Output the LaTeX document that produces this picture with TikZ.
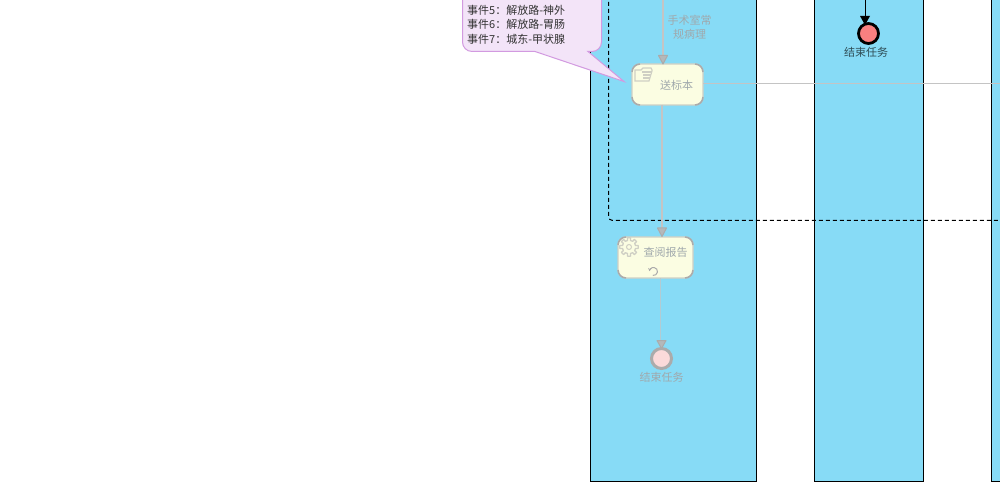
\documentclass[tikz,border=0pt]{standalone}
\usepackage{fontspec}
\usetikzlibrary{arrows.meta}
\setmainfont{Liberation Sans}
\newfontfamily\cjk{Noto Sans CJK SC}
\definecolor{laneblue}{HTML}{87DBF6}
\definecolor{taskline}{HTML}{CFCFC4}
\definecolor{taskfill}{HTML}{FBFDE2}
\definecolor{fadetext}{HTML}{A0A8AC}
\definecolor{flowgray}{HTML}{C4C4C4}
\definecolor{tipline}{HTML}{ABABAB}
\definecolor{tipfill}{HTML}{B4B8BA}
\definecolor{callfill}{HTML}{F3E4F8}
\definecolor{callline}{HTML}{D29AE0}
\definecolor{endred}{HTML}{F98080}
\definecolor{endpink}{HTML}{FBDADA}
\tikzset{
  lane/.style={fill=laneblue,draw=black,line width=1pt},
  task/.style={draw=taskline,fill=taskfill,line width=1.4pt,rounded corners=8pt,minimum height=41pt,inner sep=0pt,outer sep=0pt},
  lbl/.style={font=\cjk\fontsize{11}{14}\selectfont,text=fadetext,inner sep=0pt,align=center},
  flow/.style={draw=flowgray,line width=1.2pt},
  tipgray/.style={draw=tipline,line width=1pt,fill=tipfill,line join=round},
  cornergray/.style={draw=tipline,line width=1.5pt,rounded corners=8pt},
}
\newcommand\taskcorners[1]{%
  \draw[cornergray] ([yshift=-8pt]#1.north west) -- (#1.north west) -- ([xshift=8pt]#1.north west);
  \draw[cornergray] ([yshift=-8pt]#1.north east) -- (#1.north east) -- ([xshift=-8pt]#1.north east);
  \draw[cornergray] ([yshift=8pt]#1.south west) -- (#1.south west) -- ([xshift=8pt]#1.south west);
  \draw[cornergray] ([yshift=8pt]#1.south east) -- (#1.south east) -- ([xshift=-8pt]#1.south east);
}
\begin{document}
\begin{tikzpicture}[x=1pt,y=-1pt]
\useasboundingbox (0,0) rectangle (1000,486);
\fill[white] (0,0) rectangle (1000,486);
% lanes
\path[lane] (590.5,-5) rectangle (756.5,481.5);
\path[lane] (814.5,-5) rectangle (923.5,481.5);
\path[lane] (991.5,-5) rectangle (1005,481.5);
\coordinate (fr) at (1003,83.5);
% dashed group
\draw[black,line width=1pt,dash pattern=on 4pt off 3pt,rounded corners=4pt] (608.5,-5) -- (608.5,220.5) -- (1005,220.5);
% nodes
\node[task,minimum width=71pt] (send) at (667.5,84.5) {};
\node[task,minimum width=75pt] (report) at (655.5,257.5) {};
\taskcorners{send}
\taskcorners{report}
\node[circle,draw=tipline,fill=endpink,line width=3pt,minimum size=20pt,inner sep=0pt] (endb) at (661.5,358.5) {};
\node[circle,draw=black,fill=endred,line width=2.8pt,minimum size=20pt,inner sep=0pt] (enda) at (868.5,33.5) {};
\node[lbl] (lab1) at (689.5,27.5) {手术室常\\规病理};
\node[lbl] (t1) at (676.5,85) {送标本};
\node[lbl] (t2) at (665.5,252) {查阅报告};
\node[lbl] (e1) at (661.5,377) {结束任务};
\node[lbl,text=black!65!laneblue] (e2) at (866,52) {结束任务};
\coordinate (top1) at (663,-5);
\coordinate (top2) at (865,-5);
\coordinate (t1in) at (663,57);
\coordinate (r1) at (662,105);
\coordinate (r2) at (662,229);
\coordinate (q1) at (660.5,278);
\coordinate (q2) at (660.5,341);
\coordinate (a1) at (865,16);
% connectors
\draw[flow] (send.east |- fr) -- (fr);
\draw[flow] (top1) -- (t1in);
\draw[flow] (r1) -- (r2);
\draw[draw=flowgray!70!laneblue,line width=1pt] (q1) -- (q2);
\draw[black,line width=1pt] (top2) -- (a1);
\draw[tipgray] (658.5,55.5) -- (667.5,55.5) -- (663,64) -- cycle;
\draw[tipgray] (657.5,228) -- (666.5,228) -- (662,236.5) -- cycle;
\draw[tipgray] (657,340.5) -- (666,340.5) -- (661.5,348.5) -- cycle;
\fill[black] (860,16) -- (870,16) -- (865,25) -- cycle;
% callout
\path[fill=callfill,draw=callline,line width=1pt,line join=miter]
 (601.5,-20) -- (601.5,42) .. controls (601.5,47.5) and (597,51.5) .. (592,51.5) -- (588,51.5)
 -- (624,81.5) -- (535,51.5) -- (472,51.5) .. controls (466.5,51.5) and (462.5,47) .. (462.5,42)
 -- (462.5,-20) -- cycle;
\node[anchor=west,inner sep=0pt,font=\cjk\fontsize{11}{14.5}\selectfont,text=black!80,align=left] (call) at (467,24.5)
 {事件5：解放路-神外\\事件6：解放路-胃肠\\事件7：城东-甲状腺};
% icons
\draw[taskline,line width=1.1pt,fill=taskfill] (635,70) -- (641,70) -- (643,68) -- (651,68) -- (652,70) -- (652,71) -- (649,81) -- (635,81) -- cycle;
\draw[taskline,line width=1.1pt] (642,72) -- (652,72) (643,75) -- (651,75) (643,78) -- (650,78);
\draw[taskline,line width=1.3pt,fill=taskfill,line join=round] plot[samples at={0,2.5,...,357.5},variable=\t] ({629+(abs(mod(\t,45)-22.5)>11 ? 9.2 : 6.6)*cos(\t)},{247+(abs(mod(\t,45)-22.5)>11 ? 9.2 : 6.6)*sin(\t)}) -- cycle;
\node[draw=taskline,circle,minimum size=5pt,inner sep=0pt,line width=1pt] (gearhub) at (629,247) {};
\draw[tipline,line width=1pt,-{Stealth[length=3pt,width=3.5pt]}] (652.8,275.4) arc[start angle=100,end angle=-175,radius=4];
\end{tikzpicture}
\end{document}
